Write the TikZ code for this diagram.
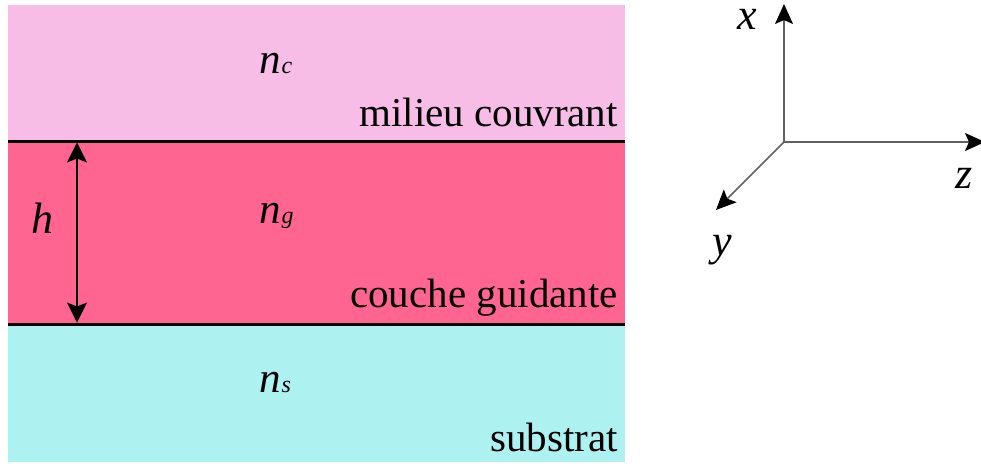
\documentclass[tikz,border=0pt]{standalone}
\usepackage{fontspec}
\setmainfont{Liberation Serif}
\newfontfamily\tms{Liberation Serif}
\usetikzlibrary{arrows.meta}
\definecolor{cpink}{HTML}{F8BDE7}
\definecolor{cred}{HTML}{FF6590}
\definecolor{ccyan}{HTML}{ADF2F1}
\definecolor{caxis}{HTML}{606060}
\newcommand{\bigtxt}{\tms\fontsize{41}{48}\selectfont}
\newcommand{\idx}[2]{\tms\fontsize{43}{48}\selectfont\textit{#1}\kern1pt{\fontsize{24}{26}\selectfont\textit{#2}}}
\newcommand{\axl}[1]{\tms\fontsize{44}{50}\selectfont\textit{#1}}
\tikzset{
  lbl/.style={inner sep=0pt, font=\bigtxt, anchor=base east},
  idxlbl/.style={inner sep=0pt, anchor=base west},
  bound/.style={line width=3pt},
  axis/.style={draw=caxis, line width=1.6pt, -{Stealth[length=20pt,width=18pt,inset=4pt,fill=black,color=black]}},
  harrow/.style={line width=1.2pt, {Stealth[length=20pt,width=20pt,inset=4pt]}-{Stealth[length=20pt,width=20pt,inset=4pt]}}
}
\begin{document}
\begin{tikzpicture}[x=1pt,y=-1pt]
\useasboundingbox (0,0) rectangle (981,463);
\fill[cpink] (8,5) rectangle (625,141);
\fill[cred] (8,141) rectangle (625,324);
\fill[ccyan] (8,324) rectangle (625,462);
\coordinate (b1l) at (8,141); \coordinate (b1r) at (625,141);
\coordinate (b2l) at (8,324); \coordinate (b2r) at (625,324);
\draw[bound] (b1l) -- (b1r);
\draw[bound] (b2l) -- (b2r);
\coordinate (htop) at (77,142.5);
\coordinate (hbot) at (77,322.5);
\draw[harrow] (htop) -- (hbot);
\node[idxlbl] (h) at (31,233) {\axl{h}};
\node[idxlbl] (nc) at (259,73) {\idx{n}{c}};
\node[idxlbl] (ng) at (259,223) {\idx{n}{g}};
\node[idxlbl] (ns) at (259,392) {\idx{n}{s}};
\node[lbl] (milieu) at (618,126) {milieu couvrant};
\node[lbl] (couche) at (618,307) {couche guidante};
\node[lbl] (substrat) at (618,451) {substrat};
\coordinate (o) at (784,142);
\coordinate (xe) at (784,4);
\coordinate (ze) at (985,142);
\coordinate (ye) at (716,210);
\draw[axis] (o) -- (xe);
\draw[axis] (o) -- (ze);
\draw[axis] (o) -- (ye);
\node[idxlbl, text height=20pt, text depth=0pt] (xl) at (737,29) {\axl{x}};
\node[idxlbl] (zl) at (955,188) {\axl{z}};
\node[idxlbl] (yl) at (712,255) {\axl{y}};
\end{tikzpicture}
\end{document}
